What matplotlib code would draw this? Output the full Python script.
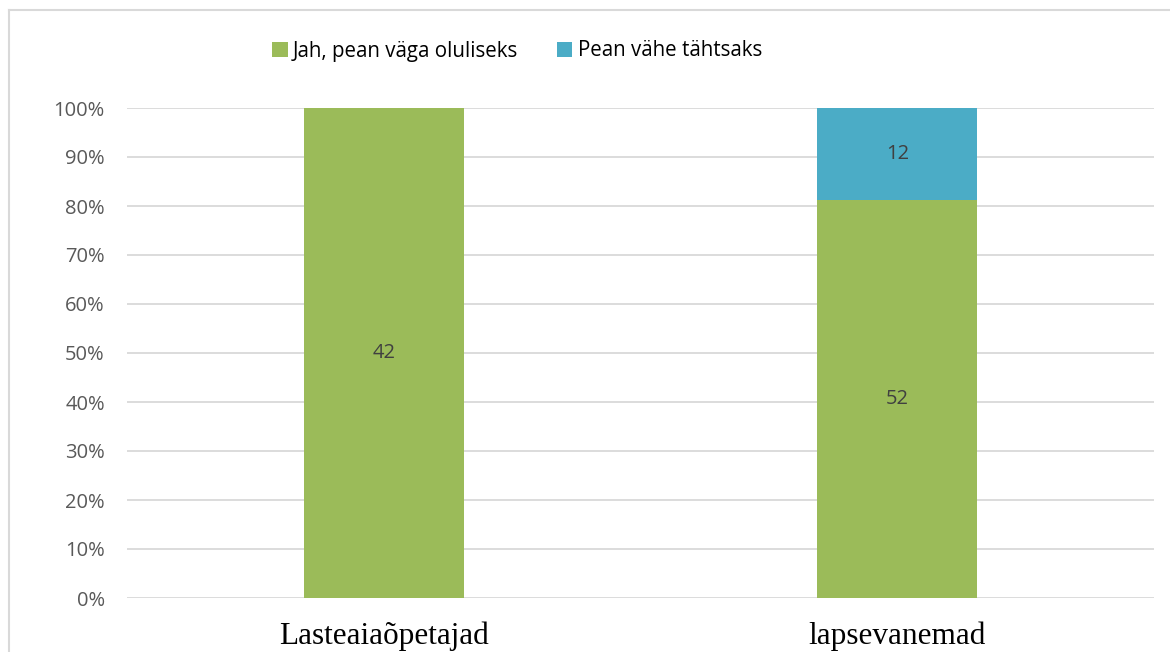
import matplotlib
matplotlib.use("Agg")
import matplotlib.pyplot as plt
from matplotlib.lines import Line2D
from matplotlib.patches import Patch
import numpy as np

categories = ["Lasteaiaõpetajad", "lapsevanemad"]
series_names = ["Jah, pean väga oluliseks", "Pean vähe tähtsaks"]
jah_counts = [42, 52]
vahe_counts = [0, 12]
colors = ["#9BBB59", "#4BACC6"]
ytick_labels = ["0%", "10%", "20%", "30%", "40%", "50%", "60%", "70%", "80%", "90%", "100%"]

W, H = 1170, 652
fig = plt.figure(figsize=(W / 100, H / 100), dpi=100)

left, right = 127 / W, 1154 / W
bottom, top = 1 - 598 / H, 1 - 108 / H
ax = fig.add_axes([left, bottom, right - left, top - bottom])

jah = np.array(jah_counts, dtype=float)
vahe = np.array(vahe_counts, dtype=float)
tot = jah + vahe
jah_p = jah / tot
vahe_p = vahe / tot
x = np.arange(len(categories))
width = 160 / 513.5

ax.bar(x, jah_p, width, color=colors[0], zorder=3)
ax.bar(x, vahe_p, width, bottom=jah_p, color=colors[1], zorder=3)

label_font = ["Open Sans", "DejaVu Sans"]
for i in range(len(categories)):
    if jah[i] > 0:
        ax.text(x[i], jah_p[i] / 2, f"{int(jah[i])}", ha="center", va="center",
                fontsize=14.5, color="#404040", family=label_font, zorder=4)
    if vahe[i] > 0:
        ax.text(x[i], jah_p[i] + vahe_p[i] / 2, f"{int(vahe[i])}", ha="center", va="center",
                fontsize=14.5, color="#404040", family=label_font, zorder=4)

ax.set_xlim(-0.5, len(categories) - 0.5)
ax.set_ylim(0, 1)
ax.set_yticks(np.linspace(0, 1, 11))
ax.set_yticklabels(ytick_labels, family=label_font, fontsize=14.5, color="#595959")
ax.yaxis.grid(True, color="#D9D9D9", linewidth=1.3, zorder=0)
ax.tick_params(axis="y", length=0, pad=16)
ax.set_xticks(x)
ax.set_xticklabels(categories, family=["Liberation Serif"], fontsize=22.5, color="black")
ax.tick_params(axis="x", length=0, pad=17)
for s in ax.spines.values():
    s.set_visible(False)

# legend
handles = [Patch(facecolor=c, edgecolor="none") for c in colors]
leg = fig.legend(handles, series_names, loc="center", bbox_to_anchor=(517 / W, 1 - 51 / H),
                 ncol=2, frameon=False, prop={"family": label_font, "size": 14.8},
                 handlelength=0.75, handleheight=0.75, handletextpad=0.25, columnspacing=1.9)
for t in leg.get_texts():
    t.set_color("#000000")

# chart border
fig.add_artist(Line2D([8.5 / W, 8.5 / W], [0, 1 - 9.5 / H], color="#D9D9D9", lw=1.5))
fig.add_artist(Line2D([8.5 / W, 1], [1 - 9.5 / H, 1 - 9.5 / H], color="#D9D9D9", lw=1.5))

fig.savefig("out.png", dpi=100, facecolor="white")
